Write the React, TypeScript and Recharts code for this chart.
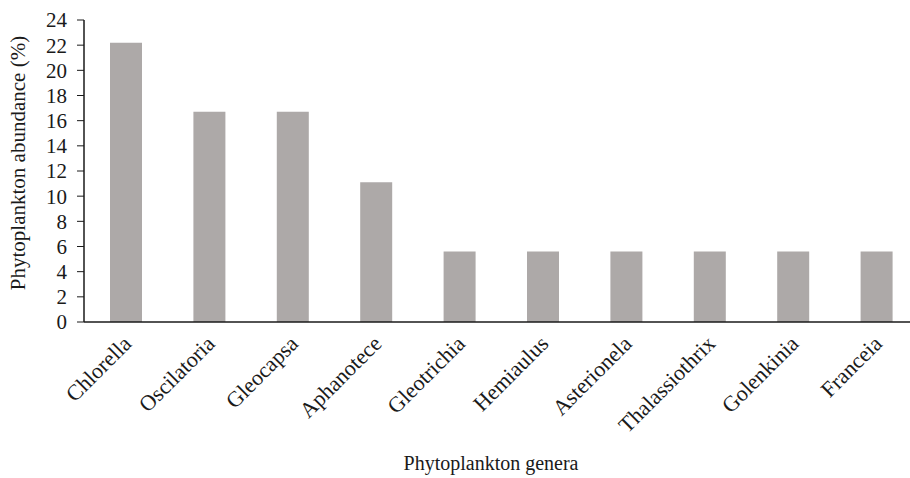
import { BarChart, Bar, XAxis, YAxis } from 'recharts'

const genera = [
  'Chlorella',
  'Oscilatoria',
  'Gleocapsa',
  'Aphanotece',
  'Gleotrichia',
  'Hemiaulus',
  'Asterionela',
  'Thalassiothrix',
  'Golenkinia',
  'Franceia',
]
const abundance = [22.2, 16.7, 16.7, 11.1, 5.6, 5.6, 5.6, 5.6, 5.6, 5.6]
const yTicks = [0, 2, 4, 6, 8, 10, 12, 14, 16, 18, 20, 22, 24]

const data = genera.map((name, i) => ({ name, value: abundance[i] }))

const font = 'Liberation Serif'
const ink = '#1a1a1a'

function GenusTick(props: any) {
  const { x, y, payload } = props
  const px = x + 7
  const py = y + 15
  return (
    <text
      x={px}
      y={py}
      textAnchor="end"
      transform={`rotate(-45, ${px}, ${py})`}
      style={{ fontFamily: font, fontSize: 22 }}
      fill={ink}
    >
      {payload.value}
    </text>
  )
}

function YTitle() {
  return (
    <text
      x={18}
      y={163}
      transform="rotate(-90, 18, 163)"
      textAnchor="middle"
      dominantBaseline="central"
      style={{ fontFamily: font, fontSize: 21 }}
      fill={ink}
    >
      Phytoplankton abundance (%)
    </text>
  )
}

function XTitle() {
  return (
    <text x={491} y={470} textAnchor="middle" style={{ fontFamily: font, fontSize: 20 }} fill={ink}>
      Phytoplankton genera
    </text>
  )
}

export default function App() {
  // the original figure is cropped on the right, so the chart runs past the window edge
  return (
    <div
      style={{
        position: 'absolute',
        left: 0,
        top: 0,
        width: 910,
        height: 478,
        overflow: 'hidden',
        background: '#fff',
        fontFamily: font,
      }}
    >
      <BarChart
        width={918}
        height={478}
        data={data}
        margin={{ top: 20, right: 0, left: 30, bottom: 6 }}
        barSize={32}
      >
        <XAxis
          dataKey="name"
          interval={0}
          height={150}
          tickLine={false}
          axisLine={{ stroke: ink, strokeWidth: 1.5 }}
          tick={<GenusTick />}
          label={<XTitle />}
        />
        <YAxis
          width={54}
          domain={[0, 24]}
          ticks={yTicks}
          interval={0}
          tickSize={7}
          tickMargin={10}
          axisLine={{ stroke: ink, strokeWidth: 1.5 }}
          tickLine={{ stroke: ink }}
          tick={{ fontFamily: font, fontSize: 21, fill: ink }}
          label={<YTitle />}
        />
        <Bar dataKey="value" fill="#ADA9A8" isAnimationActive={false} />
      </BarChart>
    </div>
  )
}
